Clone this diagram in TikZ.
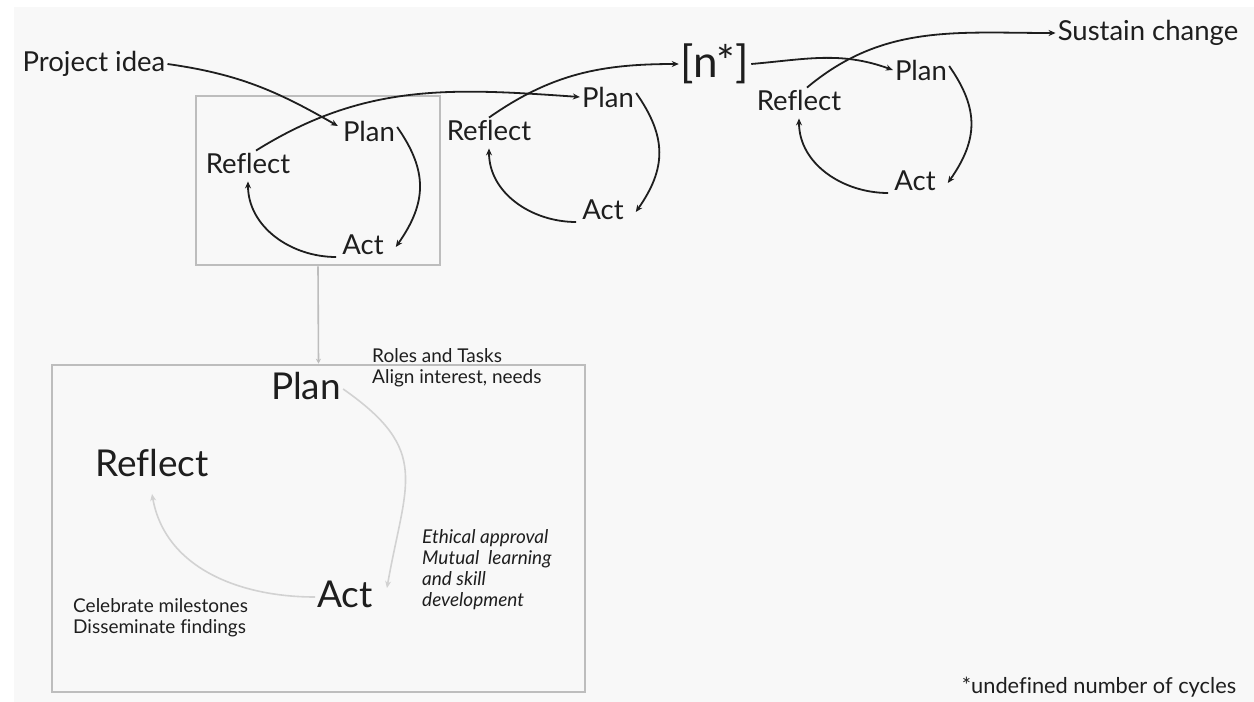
\documentclass[tikz,border=0pt]{standalone}
\usepackage{fontspec}
\setmainfont{Lato}[Ligatures=NoCommon]
\usetikzlibrary{positioning,arrows.meta}

\definecolor{paper}{HTML}{F8F8F8}
\definecolor{frame}{HTML}{BDBDBD}
\definecolor{faint}{HTML}{D2D2D2}
\definecolor{ink}{HTML}{1E1E1E}

\begin{document}
\begin{tikzpicture}[
  x=1pt, y=-1pt,
  every node/.style={text=ink, inner sep=2pt},
  step label/.style={font=\fontsize{27.5}{32}\selectfont},
  big label/.style={font=\fontsize{37}{42}\selectfont},
  note/.style={font=\fontsize{19}{21}\selectfont, align=left, anchor=west},
  cycle/.style={draw=ink, line width=1.8pt, -{Stealth[length=7pt,width=6pt]}},
  soft/.style={draw=faint, line width=1.6pt, -{Stealth[length=7pt,width=6pt]}},
  panel/.style={draw=frame, line width=2.6pt, inner sep=0pt}
]
  \useasboundingbox (0,0) rectangle (1254,702);
  \fill[paper] (14,7) rectangle (1254,702);

  % top row of cycles
  \node (idea) [step label] at (94,64) {Project idea};

  \node (plana) [step label] at (369,131) {Plan};
  \node (reflecta) [step label] at (248,163) {Reflect};
  \node (acta) [step label] at (363,245) {Act};

  \node (planb) [step label] at (608,97) {Plan};
  \node (reflectb) [step label] at (489,130) {Reflect};
  \node (actb) [step label] at (603,210) {Act};

  \node (nstar) [font=\fontsize{44}{48}\selectfont] at (715,64) {[n*]};

  \node (planc) [step label] at (921,70) {Plan};
  \node (reflectc) [step label] at (799,100) {Reflect};
  \node (actc) [step label] at (915,181) {Act};

  \node (sustain) [step label] at (1148,33) {Sustain change};

  \node (zoom) [panel, minimum width=244, minimum height=169] at (318,180.5) {};

  \draw[cycle] (idea.east) to[out=-8,in=150] ([xshift=-3,yshift=5]plana.west);
  \draw[cycle] ([yshift=4]plana.east) to[out=-55,in=55,looseness=1.15] ([xshift=10,yshift=-2]acta.east);
  \draw[cycle] ([xshift=-4,yshift=-12]acta.west) to[out=180,in=-90] ([yshift=-6]reflecta.south);
  \draw[cycle] ([xshift=8]reflecta.north) to[out=32,in=176] (planb.west);

  \draw[cycle] ([yshift=4]planb.east) to[out=-55,in=55,looseness=1.15] ([xshift=10,yshift=-2]actb.east);
  \draw[cycle] ([xshift=-4,yshift=-12]actb.west) to[out=180,in=-90] ([yshift=-6]reflectb.south);
  \draw[cycle] (reflectb.north) to[out=35,in=180] (nstar.west);
  \draw[cycle] (nstar.east) to[out=5,in=160] (planc.west);

  \draw[cycle] ([yshift=4]planc.east) to[out=-55,in=55,looseness=1.15] ([xshift=10,yshift=-2]actc.east);
  \draw[cycle] ([xshift=-4,yshift=-12]actc.west) to[out=180,in=-90] ([yshift=-6]reflectc.south);
  \draw[cycle] ([xshift=8]reflectc.north) to[out=40,in=180] (sustain.west);

  % detail of the first cycle
  \node (detail) [panel, minimum width=533, minimum height=327] at (318.5,528.5) {};
  \draw[draw=frame, line width=1.6pt, -{Stealth[length=5pt,width=5pt]}] (zoom.south) -- (detail.north);

  \node (planbig) [big label] at (306,386) {Plan};
  \node (reflectbig) [big label] at (152,463) {Reflect};
  \node (actbig) [big label] at (345,594) {Act};

  \node (roles) [note] at (370,368) {Roles and Tasks\\Align interest, needs};
  \node (ethics) [note, font=\fontsize{19}{21}\selectfont\itshape] at (420,570) {Ethical approval\\Mutual~ learning\\and skill\\development};
  \node (share) [note] at (71,618) {Celebrate milestones\\Disseminate findings};

  \draw[soft] ([yshift=-3]planbig.east) to[out=-35,in=80,looseness=1.35] ([xshift=12,yshift=6]actbig.east);
  \draw[soft] ([yshift=-3]actbig.west) to[out=180,in=-80] ([yshift=-15]reflectbig.south);

  \node (footnote) [font=\fontsize{21.8}{26}\selectfont] at (1099,687) {*undefined number of cycles};
\end{tikzpicture}
\end{document}
